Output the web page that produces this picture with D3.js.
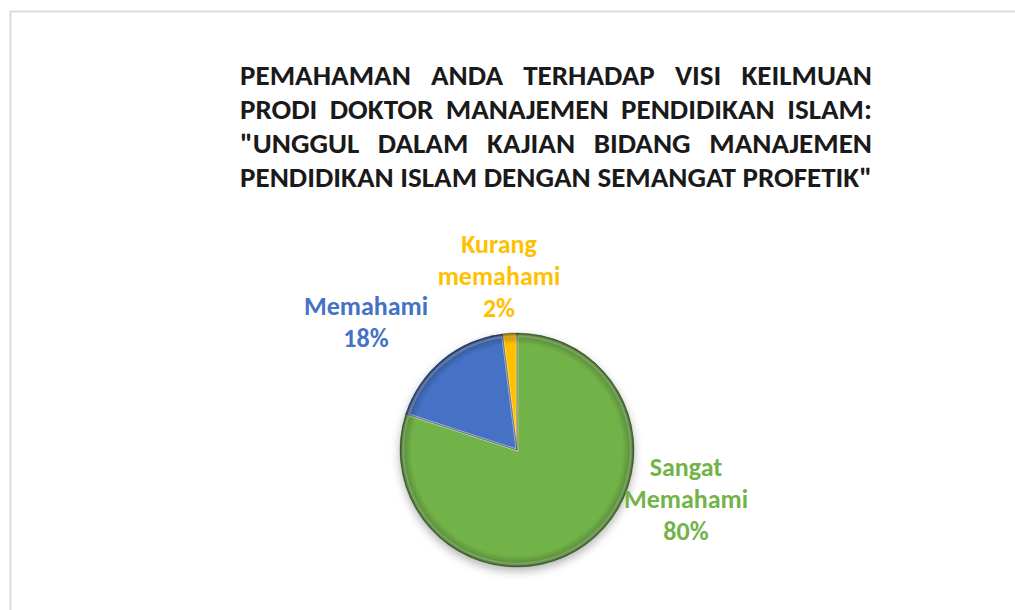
<!DOCTYPE html>
<html>
<head>
<meta charset="utf-8">
<script src="https://cdn.jsdelivr.net/npm/d3@7"></script>
<style>
  body { margin: 0; background: #fff; }
  svg { display: block; }
</style>
</head>
<body>
<div class="chart"></div>
<script>
// data
const categories = ["Sangat Memahami", "Memahami", "Kurang memahami"];
const values = [80, 18, 2];
const labelLines = [["Sangat", "Memahami", "80%"], ["Memahami", "18%"], ["Kurang", "memahami", "2%"]];
const colors = ["#72b34a", "#4472c4", "#ffc000"];
const titleLines = [
  "PEMAHAMAN ANDA TERHADAP VISI KEILMUAN",
  "PRODI DOKTOR MANAJEMEN PENDIDIKAN ISLAM:",
  "\"UNGGUL DALAM KAJIAN BIDANG MANAJEMEN",
  "PENDIDIKAN ISLAM DENGAN SEMANGAT PROFETIK\""
];

const width = 1015, height = 610;
const cx = 517, cy = 450, r = 117;
const font = "Carlito, Calibri, 'Open Sans', sans-serif";

// label anchors (offset of first line from pie centre), line step
const labelPos = [[169, 26], [-151, -135], [-18, -197]];
const lineStep = 32;

const svg = d3.select(".chart").append("svg")
  .attr("width", width)
  .attr("height", height);

// frame of the slide
svg.append("path")
  .attr("d", `M${width},11.5H10.5V${height}`)
  .attr("fill", "none")
  .attr("stroke", "#dcdcdc")
  .attr("stroke-width", 2);

const defs = svg.append("defs");
const shadow = defs.append("filter").attr("id", "shadow")
  .attr("x", "-20%").attr("y", "-20%").attr("width", "140%").attr("height", "140%");
shadow.append("feDropShadow")
  .attr("dx", 0).attr("dy", 4).attr("stdDeviation", 5)
  .attr("flood-color", "#000").attr("flood-opacity", 0.3);

const rim = defs.append("radialGradient").attr("id", "rim")
  .attr("gradientUnits", "userSpaceOnUse")
  .attr("cx", 0).attr("cy", 0).attr("r", r);
rim.append("stop").attr("offset", "0%").attr("stop-color", "#000").attr("stop-opacity", 0);
rim.append("stop").attr("offset", "90%").attr("stop-color", "#000").attr("stop-opacity", 0);
rim.append("stop").attr("offset", "97%").attr("stop-color", "#000").attr("stop-opacity", 0.2);
rim.append("stop").attr("offset", "100%").attr("stop-color", "#000").attr("stop-opacity", 0.45);

// title, justified like the original text box
const titleLeft = 240, titleRight = 872, titleTop = 85, titleStep = 34;
const avail = titleRight - titleLeft;
const title = svg.append("g")
  .attr("font-family", font)
  .attr("font-weight", "bold")
  .attr("font-size", 22)
  .attr("fill", "#1a1a1a");

// size the font so the last (unjustified) line fills the box
const probe = title.append("text").text(titleLines[titleLines.length - 1]);
const titleSize = 22 * avail / probe.node().getComputedTextLength();
probe.remove();
title.attr("font-size", titleSize);

titleLines.forEach((line, i) => {
  const words = line.split(" ");
  const y = titleTop + i * titleStep;
  const texts = words.map(w => title.append("text").attr("y", y).text(w));
  const widths = texts.map(t => t.node().getComputedTextLength());
  const total = d3.sum(widths);
  const gap = i === titleLines.length - 1
    ? (avail - total) / (words.length - 1)
    : Math.max(4, (avail - total) / (words.length - 1));
  let x = titleLeft;
  texts.forEach((t, j) => {
    t.attr("x", x);
    x += widths[j] + gap;
  });
});

// pie
const pie = d3.pie().sort(null).value(d => d)
  .startAngle(0).endAngle(2 * Math.PI);
const arcs = pie(values);
const arc = d3.arc().innerRadius(0).outerRadius(r);
const arcIn = d3.arc().innerRadius(0).outerRadius(r - 3);

const g = svg.append("g").attr("transform", `translate(${cx},${cy})`);

g.append("g").attr("filter", "url(#shadow)")
  .selectAll("path")
  .data(arcs)
  .join("path")
  .attr("d", arc)
  .attr("fill", (d, i) => colors[i]);

// bevel highlight along slice edges
g.append("g").selectAll("path")
  .data(arcs)
  .join("path")
  .attr("d", arcIn)
  .attr("fill", "none")
  .attr("stroke", "#fff")
  .attr("stroke-opacity", 0.3)
  .attr("stroke-width", 2.5)
  .attr("stroke-linejoin", "round");

g.append("g").selectAll("path")
  .data(arcs)
  .join("path")
  .attr("d", arc)
  .attr("fill", "url(#rim)")
  .attr("stroke", "#000")
  .attr("stroke-opacity", 0.25)
  .attr("stroke-width", 1)
  .attr("stroke-linejoin", "round");

// data labels
const labels = svg.append("g")
  .attr("font-family", font)
  .attr("font-weight", "bold")
  .attr("font-size", 26)
  .attr("text-anchor", "middle");

arcs.forEach((d, i) => {
  const t = labels.append("text")
    .attr("fill", colors[i])
    .attr("x", cx + labelPos[i][0])
    .attr("y", cy + labelPos[i][1]);
  labelLines[i].forEach((s, j) => {
    t.append("tspan")
      .attr("x", cx + labelPos[i][0])
      .attr("dy", j === 0 ? 0 : lineStep)
      .text(s);
  });
});
</script>
</body>
</html>
